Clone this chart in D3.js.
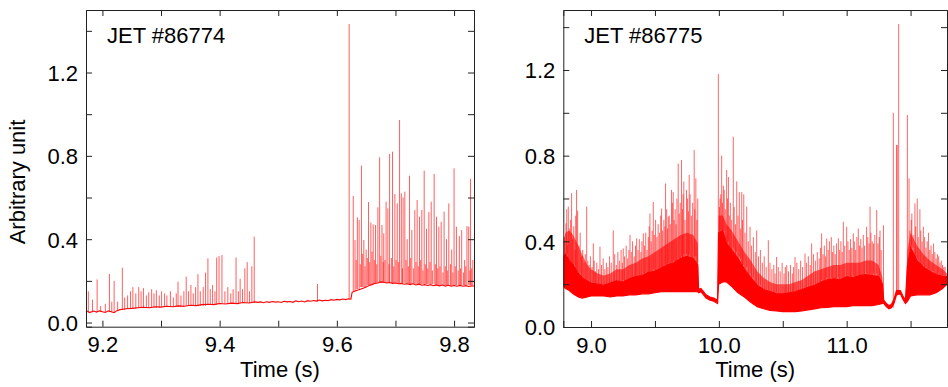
<!DOCTYPE html>
<html><head><meta charset="utf-8">
<script src="https://cdn.jsdelivr.net/npm/d3@7"></script>
<style>
html,body{margin:0;padding:0;background:#fff;}
svg{display:block;}
text{font-family:"Liberation Sans",Arial,Helvetica,sans-serif;fill:#000;}
</style></head>
<body><svg id="chart" width="948" height="387"></svg>
<script>
// ---------- DATA ----------
const leftTitle = "JET #86774";
const rightTitle = "JET #86775";
const xLabel = "Time (s)";
const yLabel = "Arbitrary unit";

const leftXMajor = [9.2,9.3,9.4,9.5,9.6,9.7,9.8];
const leftXLabels = [9.2,9.4,9.6,9.8];
const rightXMajor = [9.0,9.5,10.0,10.5,11.0,11.5];
const rightXLabels = [9.0,10.0,11.0];
const yMajor = [0,0.2,0.4,0.6,0.8,1.0,1.2,1.4];
const yLabels = [0,0.4,0.8,1.2];

// JET #86774 : baseline trace [time, value]
const leftBase = [
 [9.172,0.058],[9.178,0.048],[9.185,0.055],[9.19,0.05],[9.195,0.056],[9.20,0.052],[9.205,0.048],[9.21,0.056],
 [9.215,0.052],[9.22,0.047],[9.225,0.057],[9.23,0.062],[9.235,0.064],[9.24,0.066],[9.25,0.068],[9.26,0.071],
 [9.27,0.073],[9.28,0.071],[9.29,0.076],[9.30,0.074],[9.31,0.078],[9.32,0.076],[9.33,0.08],[9.34,0.078],
 [9.35,0.083],[9.36,0.081],[9.37,0.086],[9.38,0.088],[9.39,0.086],[9.40,0.091],[9.41,0.089],[9.42,0.093],
 [9.43,0.091],[9.44,0.096],[9.45,0.094],[9.46,0.099],[9.465,0.097],[9.47,0.099],[9.475,0.095],[9.48,0.1],
 [9.485,0.097],[9.49,0.101],[9.495,0.098],[9.50,0.1],[9.505,0.096],[9.51,0.102],[9.515,0.099],[9.52,0.101],
 [9.525,0.097],[9.53,0.104],[9.535,0.1],[9.54,0.103],[9.545,0.099],[9.55,0.105],[9.555,0.102],[9.56,0.106],
 [9.565,0.103],[9.57,0.108],[9.575,0.104],[9.58,0.107],[9.585,0.105],[9.59,0.11],[9.595,0.107],[9.60,0.111],
 [9.605,0.109],[9.61,0.113],[9.615,0.11],[9.62,0.114],[9.624,0.112],[9.626,0.145],[9.63,0.15],[9.635,0.155],
 [9.64,0.16],[9.645,0.165],[9.65,0.17],[9.655,0.178],[9.66,0.182],[9.665,0.188],[9.67,0.19],[9.675,0.195],
 [9.68,0.193],[9.685,0.19],[9.69,0.192],[9.695,0.188],[9.70,0.19],[9.705,0.186],[9.71,0.188],[9.715,0.184],
 [9.72,0.186],[9.725,0.182],[9.73,0.186],[9.735,0.18],[9.74,0.184],[9.745,0.179],[9.75,0.182],[9.755,0.178],
 [9.76,0.182],[9.765,0.177],[9.77,0.18],[9.775,0.176],[9.78,0.18],[9.785,0.175],[9.79,0.179],[9.795,0.175],
 [9.80,0.178],[9.805,0.174],[9.81,0.178],[9.815,0.174],[9.82,0.177],[9.825,0.173],[9.83,0.176],[9.834,0.175]
];
// JET #86774 : spikes [time, foot, peak]
const leftSpikes = [
 [9.176,0.05,0.15],[9.183,0.05,0.11],[9.191,0.05,0.207],[9.197,0.05,0.08],[9.205,0.05,0.09],[9.212,0.05,0.233],
 [9.216,0.05,0.10],[9.220,0.05,0.20],[9.226,0.055,0.10],[9.234,0.06,0.263],[9.238,0.06,0.12],[9.243,0.065,0.13],
 [9.248,0.065,0.15],[9.252,0.065,0.17],[9.257,0.065,0.14],[9.262,0.07,0.17],[9.266,0.07,0.15],[9.270,0.07,0.165],
 [9.275,0.07,0.13],[9.279,0.07,0.145],[9.284,0.07,0.16],[9.288,0.07,0.14],[9.292,0.07,0.155],[9.297,0.07,0.13],
 [9.301,0.075,0.15],[9.306,0.075,0.14],[9.310,0.075,0.13],[9.316,0.075,0.15],[9.321,0.075,0.12],[9.326,0.075,0.14],
 [9.329,0.075,0.196],[9.334,0.075,0.13],[9.339,0.075,0.15],[9.343,0.08,0.22],[9.347,0.08,0.15],[9.351,0.08,0.18],
 [9.355,0.08,0.14],[9.359,0.08,0.17],[9.363,0.08,0.232],[9.367,0.08,0.15],[9.372,0.08,0.17],[9.376,0.08,0.24],
 [9.380,0.085,0.308],[9.384,0.085,0.16],[9.388,0.085,0.18],[9.392,0.085,0.15],[9.395,0.085,0.312],[9.399,0.09,0.319],
 [9.404,0.09,0.324],[9.409,0.09,0.15],[9.414,0.09,0.17],[9.419,0.09,0.14],[9.423,0.09,0.16],[9.428,0.09,0.312],
 [9.432,0.09,0.15],[9.435,0.095,0.21],[9.439,0.095,0.16],[9.443,0.095,0.26],[9.447,0.095,0.29],[9.451,0.095,0.15],
 [9.455,0.095,0.27],[9.459,0.095,0.412],[9.567,0.10,0.185],
 [9.621,0.11,1.433],[9.628,0.15,0.607],[9.631,0.15,0.396],[9.635,0.16,0.505],[9.638,0.16,0.492],[9.642,0.17,0.753],
 [9.646,0.17,0.396],[9.650,0.17,0.35],[9.654,0.18,0.578],[9.658,0.18,0.48],[9.662,0.185,0.471],[9.666,0.19,0.468],
 [9.670,0.19,0.553],[9.673,0.19,0.793],[9.677,0.19,0.468],[9.680,0.19,0.428],[9.684,0.19,0.58],[9.687,0.19,0.548],
 [9.690,0.19,0.809],[9.695,0.19,0.82],[9.699,0.19,0.617],[9.703,0.19,0.572],[9.707,0.19,0.972],[9.710,0.19,0.62],
 [9.713,0.19,0.601],[9.716,0.19,0.628],[9.720,0.185,0.40],[9.724,0.185,0.705],[9.728,0.185,0.444],[9.733,0.185,0.54],
 [9.737,0.185,0.588],[9.741,0.185,0.508],[9.745,0.185,0.54],[9.749,0.185,0.729],[9.753,0.185,0.45],[9.757,0.185,0.53],
 [9.761,0.185,0.58],[9.766,0.185,0.713],[9.770,0.18,0.508],[9.774,0.18,0.46],[9.778,0.18,0.484],[9.783,0.18,0.532],
 [9.787,0.18,0.40],[9.791,0.18,0.572],[9.796,0.18,0.35],[9.800,0.18,0.74],[9.804,0.18,0.46],[9.809,0.18,0.415],
 [9.813,0.18,0.444],[9.818,0.18,0.30],[9.822,0.18,0.463],[9.825,0.18,0.46],[9.828,0.18,0.69],[9.832,0.18,0.30],
 // small spikes forming the 0.2-0.3 band after the L-H transition
 [9.633,0.16,0.30],[9.640,0.17,0.28],[9.644,0.17,0.33],[9.648,0.17,0.27],[9.652,0.18,0.31],[9.656,0.18,0.29],
 [9.660,0.18,0.34],[9.664,0.19,0.30],[9.668,0.19,0.28],[9.675,0.19,0.32],[9.679,0.19,0.29],[9.682,0.19,0.30],
 [9.689,0.19,0.28],[9.693,0.19,0.31],[9.697,0.19,0.27],[9.701,0.19,0.30],[9.705,0.19,0.29],[9.712,0.19,0.26],
 [9.718,0.185,0.30],[9.722,0.185,0.27],[9.726,0.185,0.31],[9.731,0.185,0.26],[9.735,0.185,0.29],[9.739,0.185,0.27],
 [9.743,0.185,0.30],[9.747,0.185,0.25],[9.751,0.185,0.28],[9.755,0.185,0.26],[9.759,0.185,0.29],[9.763,0.185,0.25],
 [9.768,0.18,0.28],[9.772,0.18,0.26],[9.776,0.18,0.27],[9.781,0.18,0.24],[9.785,0.18,0.27],[9.789,0.18,0.25],
 [9.794,0.18,0.28],[9.798,0.18,0.24],[9.802,0.18,0.27],[9.807,0.18,0.25],[9.811,0.18,0.26],[9.816,0.18,0.24],
 [9.820,0.18,0.27],[9.827,0.18,0.25],[9.830,0.18,0.26]
];

// JET #86775 : dense band envelopes
const rightT      = [8.783,8.80,8.83,8.86,8.90,8.93,8.97,9.00,9.05,9.10,9.15,9.20,9.25,9.30,9.35,9.40,9.45,9.50,9.55,9.60,9.65,9.70,9.75,9.80,9.835,9.842,9.86,9.88,9.90,9.93,9.96,9.99,9.998,10.03,10.06,10.10,10.15,10.20,10.25,10.30,10.35,10.40,10.45,10.50,10.55,10.60,10.65,10.70,10.75,10.80,10.85,10.90,10.95,11.00,11.05,11.10,11.15,11.20,11.25,11.28,11.29,11.31,11.33,11.35,11.37,11.39,11.42,11.44,11.46,11.475,11.50,11.55,11.60,11.65,11.70,11.75,11.785];
const rightLow    = [0.19,0.18,0.17,0.155,0.14,0.135,0.14,0.145,0.145,0.145,0.14,0.145,0.145,0.15,0.15,0.155,0.155,0.16,0.165,0.165,0.165,0.165,0.165,0.165,0.165,0.16,0.165,0.15,0.135,0.125,0.12,0.11,0.20,0.21,0.21,0.19,0.16,0.14,0.115,0.095,0.085,0.078,0.075,0.072,0.072,0.072,0.075,0.08,0.085,0.09,0.092,0.095,0.095,0.095,0.10,0.10,0.10,0.10,0.105,0.11,0.11,0.095,0.085,0.09,0.11,0.15,0.155,0.13,0.11,0.12,0.145,0.15,0.15,0.15,0.16,0.18,0.20];
const rightSolid  = [0.33,0.34,0.31,0.29,0.25,0.23,0.215,0.205,0.2,0.195,0.205,0.215,0.21,0.225,0.235,0.24,0.255,0.26,0.275,0.29,0.30,0.32,0.33,0.32,0.29,0.175,0.18,0.165,0.15,0.14,0.135,0.125,0.44,0.45,0.39,0.36,0.32,0.27,0.23,0.195,0.175,0.165,0.155,0.155,0.16,0.165,0.175,0.185,0.195,0.21,0.22,0.225,0.22,0.235,0.23,0.24,0.245,0.24,0.235,0.20,0.125,0.11,0.10,0.105,0.13,0.17,0.17,0.145,0.125,0.28,0.37,0.31,0.28,0.26,0.245,0.235,0.235];
const rightStreak = [0.40,0.44,0.45,0.43,0.38,0.34,0.29,0.27,0.25,0.24,0.25,0.27,0.27,0.29,0.30,0.32,0.33,0.35,0.37,0.39,0.41,0.43,0.44,0.43,0.39,0.18,0.18,0.165,0.15,0.14,0.135,0.125,0.52,0.52,0.48,0.45,0.40,0.35,0.31,0.26,0.23,0.21,0.20,0.20,0.20,0.21,0.22,0.24,0.26,0.27,0.28,0.29,0.29,0.30,0.30,0.30,0.31,0.31,0.29,0.23,0.125,0.11,0.10,0.105,0.13,0.17,0.17,0.145,0.125,0.36,0.44,0.38,0.34,0.31,0.29,0.27,0.25];
// JET #86775 : tall spikes [time, foot, peak]
const rightSpikes = [
 [8.804,0.3,0.484],[8.822,0.3,0.562],[8.848,0.3,0.625],[8.887,0.26,0.64],[8.895,0.26,0.543],[8.966,0.22,0.562],
 [9.018,0.21,0.39],[9.07,0.2,0.375],[9.174,0.21,0.451],[9.252,0.22,0.367],[9.305,0.23,0.43],[9.357,0.24,0.414],
 [9.409,0.25,0.437],[9.461,0.26,0.53],[9.487,0.27,0.584],[9.552,0.28,0.553],[9.583,0.29,0.67],[9.604,0.3,0.515],
 [9.63,0.3,0.64],[9.643,0.31,0.63],[9.682,0.32,0.763],[9.708,0.33,0.78],[9.726,0.34,0.679],[9.747,0.34,0.64],
 [9.768,0.34,0.71],[9.807,0.33,0.826],[9.82,0.33,0.694],[9.835,0.3,0.6],
 [9.996,0.2,1.181],[10.009,0.45,0.6],[10.022,0.45,0.80],[10.035,0.45,0.66],[10.061,0.4,0.733],[10.075,0.4,0.70],
 [10.113,0.37,0.888],[10.14,0.35,0.68],[10.16,0.33,0.63],[10.179,0.3,0.63],[10.195,0.29,0.62],[10.218,0.28,0.562],
 [10.244,0.25,0.468],[10.296,0.2,0.451],[10.387,0.17,0.405],[10.452,0.16,0.327],[10.531,0.16,0.289],[10.596,0.17,0.327],
 [10.674,0.18,0.343],[10.726,0.19,0.39],[10.804,0.22,0.437],[10.844,0.23,0.413],[10.88,0.23,0.42],[10.935,0.23,0.414],
 [10.974,0.23,0.491],[11.0,0.24,0.468],[11.052,0.24,0.437],[11.091,0.24,0.46],[11.156,0.25,0.468],[11.183,0.25,0.562],
 [11.21,0.25,0.39],[11.235,0.25,0.546],[11.261,0.24,0.45],[11.288,0.11,0.475],
 [11.365,0.09,1.0],[11.391,0.15,0.85],[11.395,0.15,0.85],[11.407,0.15,1.415],[11.475,0.12,0.99],
 [11.488,0.3,0.694],[11.51,0.38,0.53],[11.534,0.32,0.577],[11.552,0.32,0.6],[11.573,0.3,0.55],[11.60,0.29,0.468],
 [11.64,0.27,0.44],[11.68,0.26,0.39],[11.72,0.25,0.33],[11.76,0.24,0.28]
];
// JET #86775 : dense ELM streaks [time, peak]
const rightStreaks = [
 [8.79,0.42],[8.81,0.55],[8.815,0.38],[8.83,0.46],[8.84,0.5],[8.855,0.41],[8.865,0.47],[8.875,0.36],[8.88,0.52],
 [8.905,0.38],[8.915,0.44],[8.925,0.33],[8.935,0.36],[8.945,0.3],[8.955,0.34],[8.975,0.31],[8.985,0.29],[8.995,0.33],
 [9.008,0.28],[9.025,0.31],[9.035,0.26],[9.045,0.3],[9.058,0.27],[9.082,0.29],[9.095,0.32],[9.108,0.27],[9.12,0.3],
 [9.132,0.28],[9.145,0.33],[9.158,0.3],[9.185,0.34],[9.198,0.29],[9.21,0.35],[9.222,0.31],[9.235,0.36],[9.245,0.3],
 [9.262,0.33],[9.275,0.38],[9.287,0.32],[9.296,0.36],[9.315,0.35],[9.325,0.4],[9.338,0.33],[9.348,0.38],[9.368,0.36],
 [9.378,0.41],[9.39,0.35],[9.398,0.4],[9.418,0.38],[9.428,0.44],[9.438,0.36],[9.448,0.42],[9.455,0.47],[9.47,0.4],
 [9.478,0.45],[9.495,0.43],[9.505,0.5],[9.515,0.42],[9.525,0.48],[9.535,0.44],[9.545,0.52],[9.56,0.45],[9.57,0.5],
 [9.578,0.47],[9.592,0.55],[9.598,0.46],[9.612,0.52],[9.62,0.48],[9.636,0.58],[9.65,0.5],[9.658,0.55],[9.665,0.48],
 [9.672,0.6],[9.69,0.53],[9.698,0.58],[9.715,0.55],[9.72,0.62],[9.735,0.5],[9.755,0.6],[9.762,0.54],[9.775,0.62],
 [9.785,0.52],[9.795,0.58],[9.812,0.55],[9.828,0.5],
 [10.005,0.56],[10.015,0.62],[10.028,0.58],[10.042,0.64],[10.05,0.55],[10.068,0.6],[10.082,0.52],[10.09,0.58],
 [10.1,0.5],[10.12,0.56],[10.13,0.48],[10.15,0.52],[10.17,0.46],[10.185,0.5],[10.205,0.44],[10.23,0.4],[10.255,0.38],
 [10.27,0.42],[10.285,0.35],[10.31,0.33],[10.325,0.36],[10.34,0.3],[10.355,0.33],[10.37,0.28],[10.4,0.3],[10.415,0.27],
 [10.43,0.29],[10.44,0.25],[10.465,0.28],[10.48,0.26],[10.495,0.3],[10.51,0.25],[10.52,0.28],[10.545,0.26],[10.56,0.29],
 [10.575,0.25],[10.585,0.28],[10.61,0.3],[10.625,0.27],[10.64,0.31],[10.655,0.28],[10.685,0.3],[10.7,0.33],[10.715,0.29],
 [10.74,0.34],[10.755,0.31],[10.77,0.35],[10.785,0.32],[10.795,0.37],[10.815,0.34],[10.825,0.38],[10.835,0.33],
 [10.855,0.36],[10.865,0.4],[10.89,0.35],[10.9,0.38],[10.91,0.34],[10.92,0.39],[10.945,0.36],[10.955,0.4],[10.965,0.35],
 [10.985,0.38],[11.01,0.4],[11.02,0.36],[11.03,0.41],[11.04,0.37],[11.06,0.4],[11.07,0.36],[11.08,0.42],[11.1,0.38],
 [11.11,0.41],[11.12,0.37],[11.13,0.43],[11.14,0.38],[11.165,0.42],[11.175,0.39],[11.19,0.44],[11.2,0.4],[11.22,0.43],
 [11.245,0.39],[11.255,0.42],[11.27,0.36],
 [11.495,0.45],[11.505,0.5],[11.52,0.43],[11.54,0.47],[11.56,0.42],[11.58,0.45],[11.59,0.4],[11.61,0.42],[11.62,0.37],
 [11.63,0.4],[11.65,0.36],[11.66,0.38],[11.67,0.34],[11.69,0.35],[11.7,0.32],[11.71,0.34],[11.73,0.3],[11.74,0.31],
 [11.75,0.29],[11.77,0.28]
];

// ---------- DRAW ----------
const svg = d3.select("#chart");
const fmt = d3.format(".1f");

function minorTicks(dom, step){
  const a=[]; const n0=Math.ceil(dom[0]/step-1e-6), n1=Math.floor(dom[1]/step+1e-6);
  for(let n=n0;n<=n1;n++) a.push(+(n*step).toFixed(4));
  return a;
}

function panel(o){
  const x = d3.scaleLinear().domain(o.xDomain).range([o.left,o.right]);
  const y = d3.scaleLinear().domain(o.yDomain).range([o.bottom,o.top]);
  const g = svg.append("g");
  const cid = "clip"+o.id;
  svg.append("clipPath").attr("id",cid).append("rect")
    .attr("x",o.left).attr("y",o.top).attr("width",o.right-o.left).attr("height",o.bottom-o.top);
  const plot = g.append("g").attr("clip-path",`url(#${cid})`);
  o.drawData(plot,x,y);

  const xm = minorTicks(o.xDomain,o.xMinorStep), ym = minorTicks(o.yDomain,0.05);
  const labX = v => o.xLabels.some(l=>Math.abs(l-v)<1e-6) ? fmt(v) : "";
  const labY = v => yLabels.some(l=>Math.abs(l-v)<1e-6) ? fmt(v) : "";

  const axes = g.append("g");
  const ab = axes.append("g").attr("transform",`translate(0,${o.bottom})`);
  ab.call(d3.axisBottom(x).tickValues(xm).tickSize(-3).tickFormat(""));
  ab.call(d3.axisBottom(x).tickValues(o.xMajor).tickSize(-6).tickPadding(10).tickFormat(labX));
  const at = axes.append("g").attr("transform",`translate(0,${o.top})`);
  at.call(d3.axisTop(x).tickValues(xm).tickSize(-3).tickFormat(""));
  at.call(d3.axisTop(x).tickValues(o.xMajor).tickSize(-6).tickFormat(""));
  const al = axes.append("g").attr("transform",`translate(${o.left},0)`);
  al.call(d3.axisLeft(y).tickValues(ym).tickSize(-3).tickFormat(""));
  al.call(d3.axisLeft(y).tickValues(yMajor).tickSize(-6).tickPadding(8).tickFormat(labY));
  const ar = axes.append("g").attr("transform",`translate(${o.right},0)`);
  ar.call(d3.axisRight(y).tickValues(ym).tickSize(-3).tickFormat(""));
  ar.call(d3.axisRight(y).tickValues(yMajor).tickSize(-6).tickFormat(""));

  axes.selectAll("path.domain").attr("stroke","#222").attr("stroke-width",1);
  axes.selectAll(".tick line").attr("stroke","#222").attr("stroke-width",1);
  axes.selectAll(".tick text").style("font-size","22px").attr("fill","#000")
      .style("font-family",'"Liberation Sans",Arial,sans-serif');
  ab.selectAll(".tick text").attr("dy","0.71em");
  al.selectAll(".tick text").attr("dy","0.36em");

  g.append("text").attr("x",o.left+21).attr("y",43).style("font-size","22px").text(o.title);
  g.append("text").attr("x",(o.left+o.right)/2).attr("y",377).attr("text-anchor","middle")
    .style("font-size","22px").text(xLabel);
}

panel({
  id:"L", left:86, right:474, top:10, bottom:326.7,
  xDomain:[9.172,9.834], yDomain:[-0.02,1.5], xMinorStep:0.02,
  xMajor:leftXMajor, xLabels:leftXLabels, title:leftTitle,
  drawData:(p,x,y)=>{
    p.selectAll("line.sp").data(leftSpikes).join("line").attr("class","sp")
      .attr("x1",d=>x(d[0])).attr("x2",d=>x(d[0]))
      .attr("y1",d=>y(d[1])).attr("y2",d=>y(d[2]))
      .attr("stroke","#ff0000").attr("stroke-width",0.9).attr("stroke-opacity",0.7);
    p.append("path").datum(leftBase)
      .attr("d",d3.line().x(d=>x(d[0])).y(d=>y(d[1])))
      .attr("fill","none").attr("stroke","#ff0000").attr("stroke-width",1.1);
  }
});

panel({
  id:"R", left:563.3, right:947, top:10, bottom:327,
  xDomain:[8.783,11.785], yDomain:[0,1.48], xMinorStep:0.1,
  xMajor:rightXMajor, xLabels:rightXLabels, title:rightTitle,
  drawData:(p,x,y)=>{
    const band = rightT.map((t,i)=>({t, lo:rightLow[i], so:rightSolid[i], st:rightStreak[i]}));
    const nearestSolid = t => band[d3.minIndex(band, b=>Math.abs(b.t-t))].so;
    p.append("path").datum(band)
      .attr("d",d3.area().x(d=>x(d.t)).y0(d=>y(d.so)).y1(d=>y(d.st)))
      .attr("fill","#ff0000").attr("fill-opacity",0.6);
    p.selectAll("line.st").data(rightStreaks).join("line").attr("class","st")
      .attr("x1",d=>x(d[0])).attr("x2",d=>x(d[0]))
      .attr("y1",d=>y(nearestSolid(d[0]))).attr("y2",d=>y(d[1]))
      .attr("stroke","#ff0000").attr("stroke-width",1).attr("stroke-opacity",0.6);
    p.append("path").datum(band)
      .attr("d",d3.area().x(d=>x(d.t)).y0(d=>y(d.lo)).y1(d=>y(d.so)))
      .attr("fill","#ff0000").attr("stroke","#ff0000").attr("stroke-width",1.2);
    p.selectAll("line.sp").data(rightSpikes).join("line").attr("class","sp")
      .attr("x1",d=>x(d[0])).attr("x2",d=>x(d[0]))
      .attr("y1",d=>y(d[1])).attr("y2",d=>y(d[2]))
      .attr("stroke","#ff0000").attr("stroke-width",1).attr("stroke-opacity",0.6);
  }
});

svg.append("text").attr("transform","translate(25,182) rotate(-90)").attr("text-anchor","middle")
  .style("font-size","22px").text(yLabel);
</script></body></html>
